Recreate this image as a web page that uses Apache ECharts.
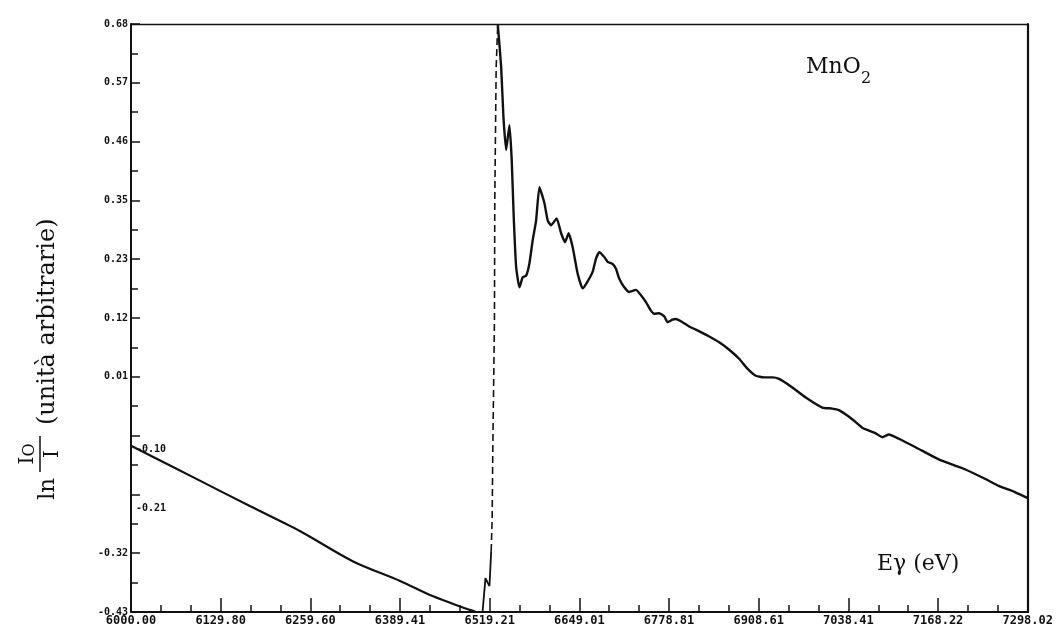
<!DOCTYPE html>
<html>
<head>
<meta charset="utf-8">
<script src="https://cdn.jsdelivr.net/npm/echarts@6/dist/echarts.min.js"></script>
<style>html,body{margin:0;padding:0;background:#fff}#c{width:1056px;height:627px}</style>
</head>
<body>
<div id="c"></div>
<script>
// ---- tick values & labels ----
const xTickValues = [6000.00, 6129.80, 6259.60, 6389.41, 6519.21, 6649.01, 6778.81, 6908.61, 7038.41, 7168.22, 7298.02];
const xTickLabels = ['6000.00','6129.80','6259.60','6389.41','6519.21','6649.01','6778.81','6908.61','7038.41','7168.22','7298.02'];
const yTickValues = [-0.43, -0.319, -0.208, -0.097, 0.014, 0.125, 0.236, 0.347, 0.458, 0.569, 0.68];
const yTickLabels = ['-0.43','-0.32','-0.21','-0.10','0.01','0.12','0.23','0.35','0.46','0.57','0.68'];
const yInsideLabelIdx = [2, 3];   // labels printed inside the frame

// ---- spectrum: pre-edge (solid) ----
const preEdgeE  = [6000.0, 6099.7, 6172.0, 6244.3, 6320.9, 6388.8, 6436.5, 6485.7, 6500.1, 6504.5];
const preEdgeMu = [-0.116, -0.182, -0.230, -0.277, -0.334, -0.371, -0.400, -0.424, -0.431, -0.446];
// ---- small wiggle at the foot of the edge (solid) ----
const footE  = [6504.5, 6508.8, 6513.1, 6516.4, 6518.9, 6521.4];
const footMu = [-0.446, -0.431, -0.366, -0.375, -0.381, -0.315];
// ---- absorption edge (dashed trace) ----
const edgeE  = [6521.4, 6522.8, 6523.7, 6526.1, 6526.6, 6528.6, 6530.9];
const edgeMu = [-0.315, -0.252, -0.126, 0.120, 0.347, 0.599, 0.680];
// ---- post-edge (solid) ----
const postE = [6530.9, 6535.8, 6539.1, 6543.0, 6547.8, 6551.1, 6554.0, 6557.5, 6562.3, 6567.1, 6572.0, 6576.7, 6581.5, 6586.4, 6591.2, 6598.4, 6603.2, 6608.1, 6616.2, 6622.6, 6628.3, 6633.5, 6639.3, 6646.5, 6653.8, 6659.1, 6668.2, 6673.1, 6677.9, 6685.1, 6689.9, 6697.1, 6702.0, 6706.8, 6714.0, 6721.3, 6730.9, 6738.2, 6745.4, 6752.6, 6757.4, 6764.6, 6771.9, 6776.6, 6783.9, 6788.8, 6798.3, 6808.0, 6817.7, 6837.0, 6851.4, 6865.9, 6880.3, 6891.9, 6904.4, 6916.4, 6928.4, 6938.1, 6957.3, 6976.7, 7000.7, 7015.1, 7024.8, 7044.0, 7058.5, 7076.8, 7087.4, 7097.1, 7111.5, 7135.7, 7169.3, 7193.5, 7207.9, 7236.8, 7256.1, 7280.2, 7298.02];
const postMu = [0.680, 0.599, 0.505, 0.442, 0.489, 0.423, 0.316, 0.221, 0.183, 0.202, 0.205, 0.228, 0.272, 0.309, 0.372, 0.342, 0.309, 0.300, 0.313, 0.285, 0.268, 0.285, 0.259, 0.209, 0.181, 0.190, 0.212, 0.237, 0.249, 0.240, 0.231, 0.227, 0.218, 0.199, 0.183, 0.174, 0.178, 0.168, 0.155, 0.139, 0.133, 0.134, 0.128, 0.117, 0.122, 0.123, 0.117, 0.109, 0.103, 0.090, 0.079, 0.065, 0.048, 0.030, 0.016, 0.013, 0.013, 0.010, -0.006, -0.025, -0.044, -0.046, -0.049, -0.066, -0.082, -0.092, -0.100, -0.095, -0.103, -0.119, -0.142, -0.154, -0.161, -0.179, -0.192, -0.204, -0.215];

const zip = (a, b) => a.map((v, i) => [v, b[i]]);
const xMin = xTickValues[0], xMax = xTickValues[xTickValues.length - 1];
const yMin = yTickValues[0], yMax = yTickValues[yTickValues.length - 1];

// minor tick positions (between major ticks)
const xMinor = [];
for (let i = 0; i < xTickValues.length - 1; i++) {
  const a = xTickValues[i], b = xTickValues[i + 1];
  xMinor.push(a + (b - a) / 3, a + 2 * (b - a) / 3);
}
const yMinor = [];
for (let i = 0; i < yTickValues.length - 1; i++) {
  yMinor.push((yTickValues[i] + yTickValues[i + 1]) / 2);
}
const lookup = (vals, labels, v) => {
  for (let i = 0; i < vals.length; i++) if (Math.abs(vals[i] - v) < 1e-6) return labels[i];
  return '';
};

const INK = '#111';
const mono = 'DejaVu Sans Mono';

const chart = echarts.init(document.getElementById('c'), null, {renderer: 'canvas'});
chart.setOption({
  backgroundColor: '#fff',
  animation: false,
  grid: {left: 131, right: 27, top: 24, bottom: 15, show: false},
  xAxis: [
    {
      type: 'value', min: xMin, max: xMax, position: 'bottom',
      axisLine: {onZero: false, lineStyle: {color: INK, width: 2}},
      axisTick: {inside: true, length: 14, lineStyle: {color: INK, width: 1.5}, customValues: xTickValues},
      axisLabel: {customValues: xTickValues, margin: 3, color: INK, fontFamily: mono, fontWeight: 'bold', fontSize: 12,
        formatter: v => lookup(xTickValues, xTickLabels, v)},
      splitLine: {show: false}
    },
    {
      type: 'value', min: xMin, max: xMax, position: 'bottom',
      axisLine: {onZero: false, show: false},
      axisTick: {inside: true, length: 7, lineStyle: {color: INK, width: 1.5}, customValues: xMinor},
      axisLabel: {show: false}, splitLine: {show: false}
    },
    {
      type: 'value', min: xMin, max: xMax, position: 'top',
      axisLine: {onZero: false, lineStyle: {color: INK, width: 1.3}},
      axisTick: {show: false}, axisLabel: {show: false}, splitLine: {show: false}
    }
  ],
  yAxis: [
    {
      type: 'value', min: yMin, max: yMax, position: 'left',
      axisLine: {onZero: false, lineStyle: {color: INK, width: 2}},
      axisTick: {inside: true, length: 9, lineStyle: {color: INK, width: 1.5}, customValues: yTickValues},
      axisLabel: {customValues: yTickValues, margin: 3, color: INK, fontFamily: mono, fontWeight: 'bold', fontSize: 10,
        formatter: v => {
          const i = yTickValues.findIndex(t => Math.abs(t - v) < 1e-6);
          return (i < 0 || yInsideLabelIdx.includes(i)) ? '' : yTickLabels[i];
        }},
      splitLine: {show: false}
    },
    {
      type: 'value', min: yMin, max: yMax, position: 'left',
      axisLine: {onZero: false, show: false},
      axisTick: {inside: true, length: 7, lineStyle: {color: INK, width: 1.5}, customValues: yMinor},
      axisLabel: {show: false}, splitLine: {show: false}
    },
    {
      type: 'value', min: yMin, max: yMax, position: 'left',
      axisLine: {onZero: false, show: false}, axisTick: {show: false},
      axisLabel: {inside: true, margin: 5, verticalAlign: 'top', padding: [9, 0, 0, 0],
        customValues: yInsideLabelIdx.map(i => yTickValues[i]),
        color: INK, fontFamily: mono, fontWeight: 'bold', fontSize: 10,
        formatter: v => lookup(yTickValues, yTickLabels, v)},
      splitLine: {show: false}
    },
    {
      type: 'value', min: yMin, max: yMax, position: 'right',
      axisLine: {onZero: false, lineStyle: {color: INK, width: 2.2}},
      axisTick: {show: false}, axisLabel: {show: false}, splitLine: {show: false}
    }
  ],
  series: [
    {type: 'line', xAxisIndex: 0, yAxisIndex: 0, data: zip(preEdgeE, preEdgeMu), showSymbol: false, smooth: 0.3,
     lineStyle: {color: INK, width: 2.2}, clip: true},
    {type: 'line', xAxisIndex: 0, yAxisIndex: 0, data: zip(footE, footMu), showSymbol: false,
     lineStyle: {color: INK, width: 1.8}, clip: true},
    {type: 'line', xAxisIndex: 0, yAxisIndex: 0, data: zip(edgeE, edgeMu), showSymbol: false,
     lineStyle: {color: INK, width: 1.6, type: [7, 4]}, clip: true},
    {type: 'line', xAxisIndex: 0, yAxisIndex: 0, data: zip(postE, postMu), showSymbol: false, smooth: 0.15,
     lineStyle: {color: INK, width: 2.4}, clip: true}
  ],
  graphic: [
    // y-axis title (rotated, reading bottom-to-top)
    {type: 'text', x: 60, y: 500, rotation: Math.PI / 2,
     style: {text: 'ln', font: '23px "DejaVu Serif"', fill: INK, align: 'left', verticalAlign: 'bottom'}},
    {type: 'line', shape: {x1: 40, y1: 472, x2: 40, y2: 436}, style: {stroke: INK, lineWidth: 1.5}},
    {type: 'text', x: 38, y: 454, rotation: Math.PI / 2,
     style: {text: '{i|I}{o|O}', align: 'center', verticalAlign: 'bottom',
       rich: {i: {font: '20px "DejaVu Serif"', fill: INK, verticalAlign: 'bottom'},
              o: {font: '16px "DejaVu Serif"', fill: INK, verticalAlign: 'bottom'}}}},
    {type: 'text', x: 43, y: 454, rotation: Math.PI / 2,
     style: {text: 'I', font: '20px "DejaVu Serif"', fill: INK, align: 'center', verticalAlign: 'top'}},
    {type: 'text', x: 60, y: 425, rotation: Math.PI / 2,
     style: {text: '(unità arbitrarie)', font: '24px "DejaVu Serif"', fill: INK, align: 'left', verticalAlign: 'bottom'}},
    // sample label
    {type: 'text', x: 806, y: 67, style: {text: 'MnO', font: '22px "DejaVu Serif"', fill: INK, align: 'left', verticalAlign: 'middle'}},
    {type: 'text', x: 861, y: 79, style: {text: '2', font: '16px "DejaVu Serif"', fill: INK, align: 'left', verticalAlign: 'middle'}},
    // energy label
    {type: 'text', x: 877, y: 564, style: {text: 'Eγ (eV)', font: '22px "DejaVu Serif"', fill: INK, align: 'left', verticalAlign: 'middle'}}
  ]
});
</script>
</body>
</html>
